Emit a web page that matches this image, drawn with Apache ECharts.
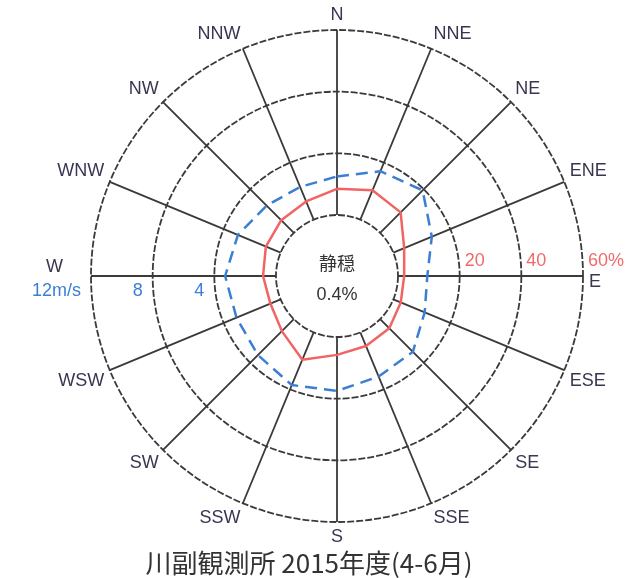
<!DOCTYPE html>
<html><head><meta charset="utf-8">
<script src="https://cdn.jsdelivr.net/npm/echarts@6.0.0/dist/echarts.min.js"></script>
<style>html,body{margin:0;padding:0;background:#fff}#c{width:635px;height:578px}</style>
</head><body><div id="c"></div>
<script>
// 16 wind directions, clockwise from north
const directions = ['N','NNE','NE','ENE','E','ESE','SE','SSE','S','SSW','SW','WSW','W','WNW','NW','NNW'];
// frequency of each direction (%), red line
const frequencyPct = [8.5,10.3,9.4,3.8,2.0,2.6,4.2,4.8,5.8,9.6,5.5,3.6,4.2,5.2,5.8,6.4];
// mean wind speed of each direction (m/s), blue dashed line
const meanSpeed = [2.5,3.4,3.9,2.7,1.9,2.2,3.0,3.1,3.5,3.7,3.3,3.1,3.3,3.0,2.5,2.3];
// radial tick values
const pctTicks = [0,20,40,60];
const speedTicks = [0,4,8,12];
const calmLabel = '静穏';
const calmPct = '0.4%';
const caption = '川副観測所 2015年度(4-6月)';

const step = 360 / directions.length;
function closed(vals){
  const d = vals.map((v,i)=>[v, i*step]);
  d.push([vals[0], 360]);
  return d;
}

const CX = 337, CY = 276;
const C = [CX, CY], R = [61, 246];
const gridColor = '#3a3a3a';
const latin = 'Liberation Sans';
const cjk = 'Noto Sans CJK JP';

const chart = echarts.init(document.getElementById('c'), null, {renderer:'canvas'});
const hiddenAngle = (i, sa) => ({polarIndex:i, type:'value', min:0, max:360, interval:step, startAngle:sa, clockwise:true, show:false});

chart.setOption({
  backgroundColor:'#fff',
  animation:false,
  polar:[{center:C, radius:R},{center:C, radius:R},{center:C, radius:R},{center:C, radius:R}],
  angleAxis:[
    {polarIndex:0, type:'value', min:0, max:360, interval:step, startAngle:90, clockwise:true,
     axisLine:{show:false}, axisTick:{show:false},
     splitLine:{show:true, lineStyle:{color:gridColor, width:1.8}},
     axisLabel:{
       margin:6, color:'#3a3550', fontSize:18, fontFamily:latin,
       formatter:(v)=>{
         if (v >= 360) return '';
         const name = directions[Math.round(v/step) % directions.length];
         if (name === 'W') return '{w|W}';
         if (name === 'E') return '{e|E}';
         return name;
       },
       rich:{
         w:{fontSize:18, fontFamily:latin, color:'#3a3550', padding:[0,22,18,0]},
         e:{fontSize:18, fontFamily:latin, color:'#3a3550', padding:[12,0,0,0]}
       }
     }},
    hiddenAngle(1, 0),
    hiddenAngle(2, 180),
    hiddenAngle(3, 90)
  ],
  radiusAxis:[
    {polarIndex:0, type:'value', min:pctTicks[0], max:pctTicks[pctTicks.length-1], interval:pctTicks[1]-pctTicks[0],
     axisLine:{show:false}, axisTick:{show:false}, axisLabel:{show:false},
     splitLine:{show:true, lineStyle:{color:gridColor, width:1.8, type:[7,2]}}},
    {polarIndex:1, type:'value', min:pctTicks[0], max:pctTicks[pctTicks.length-1], interval:pctTicks[1]-pctTicks[0],
     axisLine:{show:false}, axisTick:{show:false}, splitLine:{show:false},
     axisLabel:{margin:6, color:'#f06a6a', fontSize:18, fontFamily:latin, align:'left', padding:[0,0,0,5],
       formatter:(v)=> v===pctTicks[0] ? '' : (v===pctTicks[pctTicks.length-1] ? v+'%' : String(v))}},
    {polarIndex:2, type:'value', min:speedTicks[0], max:speedTicks[speedTicks.length-1], interval:speedTicks[1]-speedTicks[0],
     axisLine:{show:false}, axisTick:{show:false}, splitLine:{show:false},
     axisLabel:{margin:6, color:'#3b7fd4', fontSize:18, fontFamily:latin, align:'right', padding:[0,10,0,0],
       formatter:(v)=> v===speedTicks[0] ? '' : (v===speedTicks[speedTicks.length-1] ? v+'m/s' : String(v))}},
    {polarIndex:3, type:'value', min:speedTicks[0], max:speedTicks[speedTicks.length-1], show:false}
  ],
  series:[
    {type:'line', coordinateSystem:'polar', polarIndex:0, data:closed(frequencyPct), symbol:'none',
     lineStyle:{color:'#f26464', width:2.5}, z:5},
    {type:'line', coordinateSystem:'polar', polarIndex:3, data:closed(meanSpeed), symbol:'none',
     lineStyle:{color:'#3b7fd4', width:2.5, type:[12,7]}, z:6}
  ],
  graphic:[
    {type:'text', x:CX, y:CY-13, style:{text:calmLabel, font:'18px "'+cjk+'"', fill:'#333', textAlign:'center', textVerticalAlign:'middle'}},
    {type:'text', x:CX, y:CY+19, style:{text:calmPct, font:'18px "'+latin+'"', fill:'#333', textAlign:'center', textVerticalAlign:'middle'}},
    {type:'text', x:309, y:563, style:{text:caption, font:'26px "'+cjk+'"', fill:'#333', textAlign:'center', textVerticalAlign:'middle'}}
  ]
});
</script>
</body></html>
